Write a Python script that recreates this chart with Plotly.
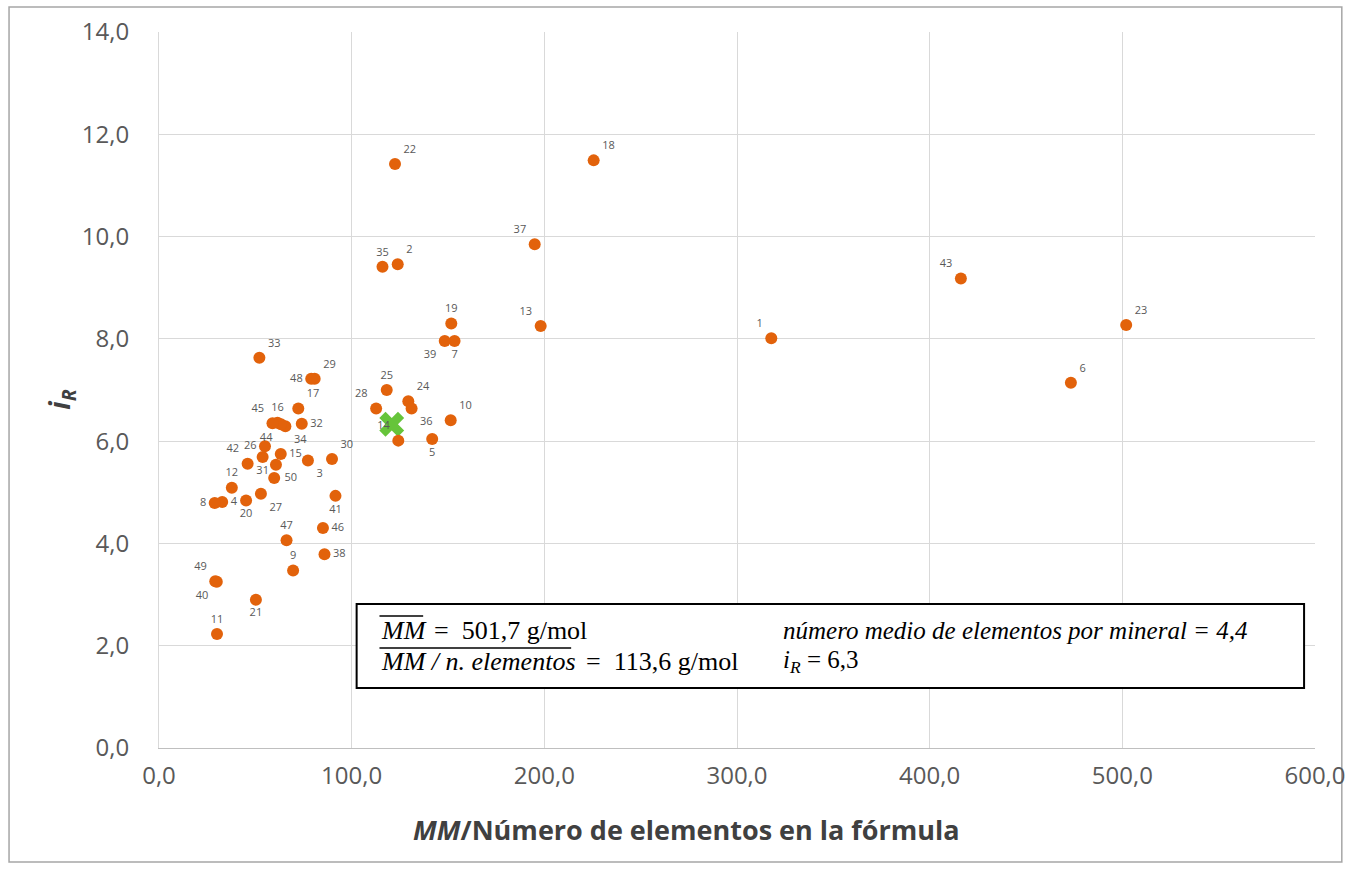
import plotly.graph_objects as go

# ---- data ----
labels = [str(i) for i in range(1, 51)] + [""]
mm_per_element = [317.8, 123.9, 77.3, 32.8, 141.8, 473.3, 153.4, 28.9, 69.6, 151.4,
                  30.1, 37.8, 198.1, 124.2, 63.2, 61.5, 72.3, 225.6, 151.7, 45.2,
                  50.3, 122.5, 502.0, 129.4, 118.2, 55.0, 52.9, 112.7, 80.8, 89.8,
                  53.8, 74.1, 52.1, 65.6, 116.0, 131.1, 195.0, 85.9, 148.3, 30.0,
                  91.6, 46.0, 416.2, 63.3, 58.9, 85.1, 66.2, 79.0, 29.2, 60.7,
                  59.8]
i_r = [8.01, 9.46, 5.62, 4.81, 6.04, 7.14, 7.96, 4.79, 3.47, 6.41,
       2.23, 5.09, 8.25, 6.01, 5.75, 6.36, 6.64, 11.49, 8.30, 4.84,
       2.90, 11.42, 8.27, 6.78, 7.00, 5.90, 4.97, 6.64, 7.22, 5.65,
       5.69, 6.34, 7.63, 6.29, 9.41, 6.64, 9.85, 3.79, 7.96, 3.25,
       4.93, 5.56, 9.18, 6.33, 6.35, 4.30, 4.06, 7.22, 3.26, 5.54,
       5.28]
label_pos = ["top left", "top right", "bottom right", "middle right", "bottom center",
             "top right", "bottom center", "middle left", "top center", "top right",
             "top center", "top center", "top left", "top left", "middle right",
             "top center", "top right", "top right", "top center", "bottom center",
             "bottom center", "top right", "top right", "top right", "top center",
             "middle left", "bottom right", "top left", "top right", "top right",
             "bottom center", "middle right", "top right", "bottom right", "top center",
             "bottom right", "top left", "middle right", "bottom left", "bottom left",
             "bottom center", "top left", "top left", "bottom left", "top left",
             "middle right", "top center", "middle left", "top left", "bottom right",
             "middle right"]
mean_x = [120.8]
mean_y = [6.33]

x_ticks = [0, 100, 200, 300, 400, 500, 600]
y_ticks = [0, 2, 4, 6, 8, 10, 12, 14]

ORANGE = "#E2620B"
GREEN = "#66C43A"
GREY = "#595959"

fig = go.Figure()
fig.add_trace(go.Scatter(
    x=mean_x, y=mean_y, mode="markers",
    marker=dict(symbol="x", color=GREEN, size=22, line=dict(width=0)),
    showlegend=False,
))
fig.add_trace(go.Scatter(
    x=mm_per_element, y=i_r, mode="markers+text", text=labels,
    textposition=label_pos,
    textfont=dict(family="Open Sans", size=11, color=GREY),
    marker=dict(color=ORANGE, size=12, line=dict(width=0)),
    showlegend=False, cliponaxis=False,
))

fig.update_layout(
    width=1358, height=870, autosize=False,
    margin=dict(l=159, r=35, t=32, b=122),
    paper_bgcolor="white", plot_bgcolor="white",
    separators=",.",
    font=dict(family="Open Sans", color=GREY),
)
fig.update_xaxes(
    range=[0, 600], tickvals=x_ticks, tickformat=".1f",
    showgrid=True, gridcolor="#D9D9D9", gridwidth=1,
    zeroline=False, showline=True, linecolor="#BFBFBF", linewidth=1,
    ticks="", tickfont=dict(family="Open Sans", size=24, color=GREY),
    ticklabelstandoff=6,
)
fig.update_yaxes(
    range=[0, 14], tickvals=y_ticks, tickformat=".1f",
    showgrid=True, gridcolor="#D9D9D9", gridwidth=1,
    zeroline=False, showline=True, linecolor="#D9D9D9", linewidth=1,
    ticks="", tickfont=dict(family="Open Sans", size=24, color=GREY),
    ticklabelstandoff=24,
)

def px_x(p):
    return (p - 159) / 1164

def px_y(p):
    return (748 - p) / 716

# Outer frame
fig.add_shape(type="rect", xref="paper", yref="paper",
              x0=px_x(8), x1=px_x(1350), y0=px_y(862), y1=px_y(7),
              line=dict(color="#A6A6A6", width=1.5), layer="below")

# Axis titles
fig.add_annotation(xref="paper", yref="paper", x=px_x(690), y=px_y(830),
                   text="<b><i>MM</i>/Número de elementos en la fórmula</b>",
                   showarrow=False, xanchor="center", yanchor="middle",
                   font=dict(family="Open Sans", size=27, color="#404040"))
fig.add_annotation(xref="paper", yref="paper", x=px_x(60), y=px_y(400),
                   text="<b><i>i<sub>R</sub></i></b>", textangle=-90,
                   showarrow=False, xanchor="center", yanchor="middle",
                   font=dict(family="Open Sans", size=28, color="#404040"))

# Info box
fig.add_shape(type="rect", xref="paper", yref="paper",
              x0=px_x(358), x1=px_x(1312), y0=px_y(688), y1=px_y(604),
              line=dict(color="black", width=2), fillcolor="white")
SERIF = "Liberation Serif"
box_texts = [
    ("<i>MM</i>", 381, 630, 26),
    ("=  501,7 g/mol", 434, 630, 26),
    ("<i>MM / n. elementos</i>", 381, 661, 26),
    ("=  113,6 g/mol", 587, 661, 26),
    ("<i>número medio de elementos por mineral = 4,4</i>", 785, 630, 25),
    ("<i>i<sub>R</sub></i> = 6,3", 785, 661, 25),
]
for txt, xp, yp, fs in box_texts:
    fig.add_annotation(xref="paper", yref="paper", x=px_x(xp), y=px_y(yp),
                       text=txt, showarrow=False, xanchor="left", yanchor="middle",
                       font=dict(family=SERIF, size=fs, color="black"))
# overlines
fig.add_shape(type="line", xref="paper", yref="paper",
              x0=px_x(381), x1=px_x(425), y0=px_y(616), y1=px_y(616),
              line=dict(color="black", width=1.5))
fig.add_shape(type="line", xref="paper", yref="paper",
              x0=px_x(381), x1=px_x(574), y0=px_y(648), y1=px_y(648),
              line=dict(color="black", width=1.5))

fig.write_html("out.html")
